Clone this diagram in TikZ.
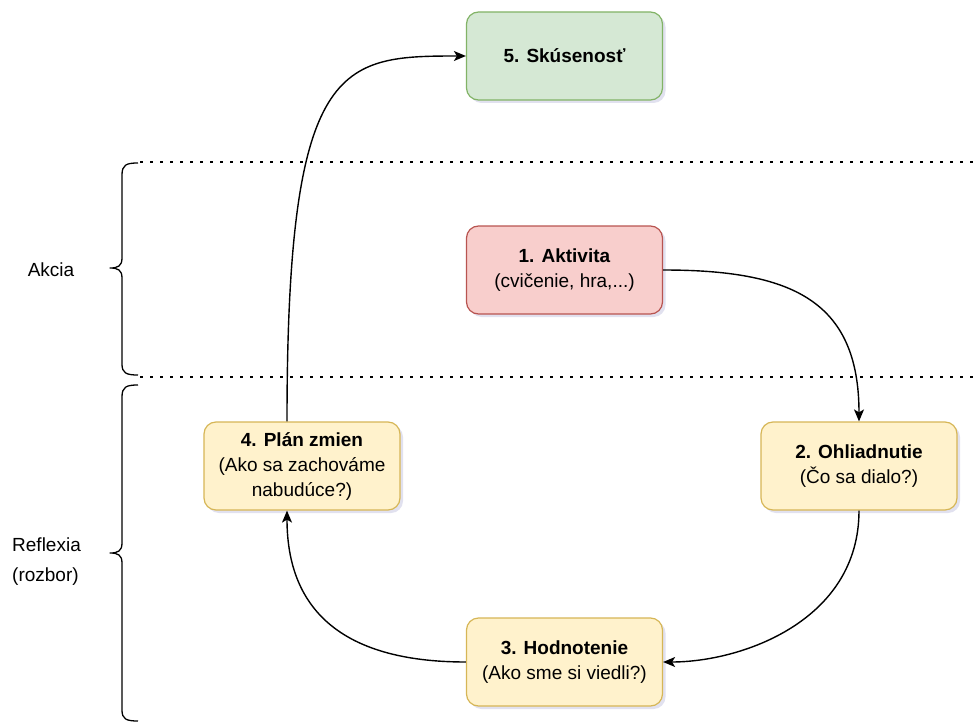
\documentclass[tikz,border=0pt]{standalone}
\usepackage{fontspec}
\setmainfont{Liberation Sans}
\usetikzlibrary{calc,shadows,arrows.meta}
\definecolor{gfill}{HTML}{D5E8D4}\definecolor{gdraw}{HTML}{82B366}
\definecolor{rfill}{HTML}{F8CECC}\definecolor{rdraw}{HTML}{B85450}
\definecolor{yfill}{HTML}{FFF2CC}\definecolor{ydraw}{HTML}{D6B656}
\tikzset{
  box/.style={rounded corners=12bp, minimum width=196bp, minimum height=88bp,
    line width=1.2bp, align=center, inner sep=2bp,
    font=\fontsize{19bp}{25bp}\selectfont,
    drop shadow={shadow xshift=3bp, shadow yshift=-3bp, opacity=0.18, fill=gray!70!blue}},
  greenbox/.style={box, fill=gfill, draw=gdraw},
  redbox/.style={box, fill=rfill, draw=rdraw},
  yellowbox/.style={box, fill=yfill, draw=ydraw},
  conn/.style={line width=1.4bp, -{Stealth[length=12bp,width=10bp,inset=3bp]}},
  sep/.style={line width=2.6bp, dash pattern=on 2.6bp off 7.4bp},
  bracepath/.style={line width=1.3bp, line join=round},
  lbl/.style={font=\fontsize{19bp}{30bp}\selectfont, inner sep=0pt}
}
\begin{document}
\begin{tikzpicture}[x=1bp,y=-1bp]
\useasboundingbox (0,0) rectangle (977,724);
% separators
\draw[sep] (140,162) -- (977,162);
\draw[sep] (140,377) -- (977,377);
% braces
\draw[bracepath] (138,163) .. controls (126,163) and (122,165) .. (122,175)
  -- (122,258) .. controls (122,266) and (118,268) .. (110,268)
  .. controls (118,268) and (122,270) .. (122,278)
  -- (122,364) .. controls (122,373) and (126,375) .. (138,375);
\draw[bracepath] (138,385) .. controls (126,385) and (122,387) .. (122,397)
  -- (122,543) .. controls (122,551) and (118,553) .. (110,553)
  .. controls (118,553) and (122,555) .. (122,563)
  -- (122,710) .. controls (122,719) and (126,721) .. (138,721);
% labels
\node[lbl] (akcia) at (51,270) {Akcia};
\node[lbl, align=left, anchor=west] (refl) at (12,562) {Reflexia\\(rozbor)};
% boxes
\node[greenbox] (n5) at (564.5,56) {\textbf{5. Skúsenosť}};
\node[redbox] (n1) at (564.5,270) {\textbf{1. Aktivita}\\(cvičenie, hra,...)};
\node[yellowbox] (n2) at (859,466) {\textbf{2. Ohliadnutie}\\(Čo sa dialo?)};
\node[yellowbox] (n3) at (564.5,662) {\textbf{3. Hodnotenie}\\(Ako sme si viedli?)};
\node[yellowbox] (n4) at (302,466) {\textbf{4. Plán zmien}\\(Ako sa zachováme\\nabudúce?)};
% connectors
\draw[conn] (n1.east) .. controls +(127,0) and +(0,-122) .. (n2.north);
\draw[conn] (n2.south) .. controls +(0,110) and +(79,0) .. (n3.east);
\draw[conn] (n3.west) .. controls +(-110,0) and +(0,110) .. ($(n4.south)+(-15,0)$);
\draw[conn] ($(n4.north)+(-15,0)$) .. controls (287,60) and (340,56) .. (n5.west);
\end{tikzpicture}
\end{document}
